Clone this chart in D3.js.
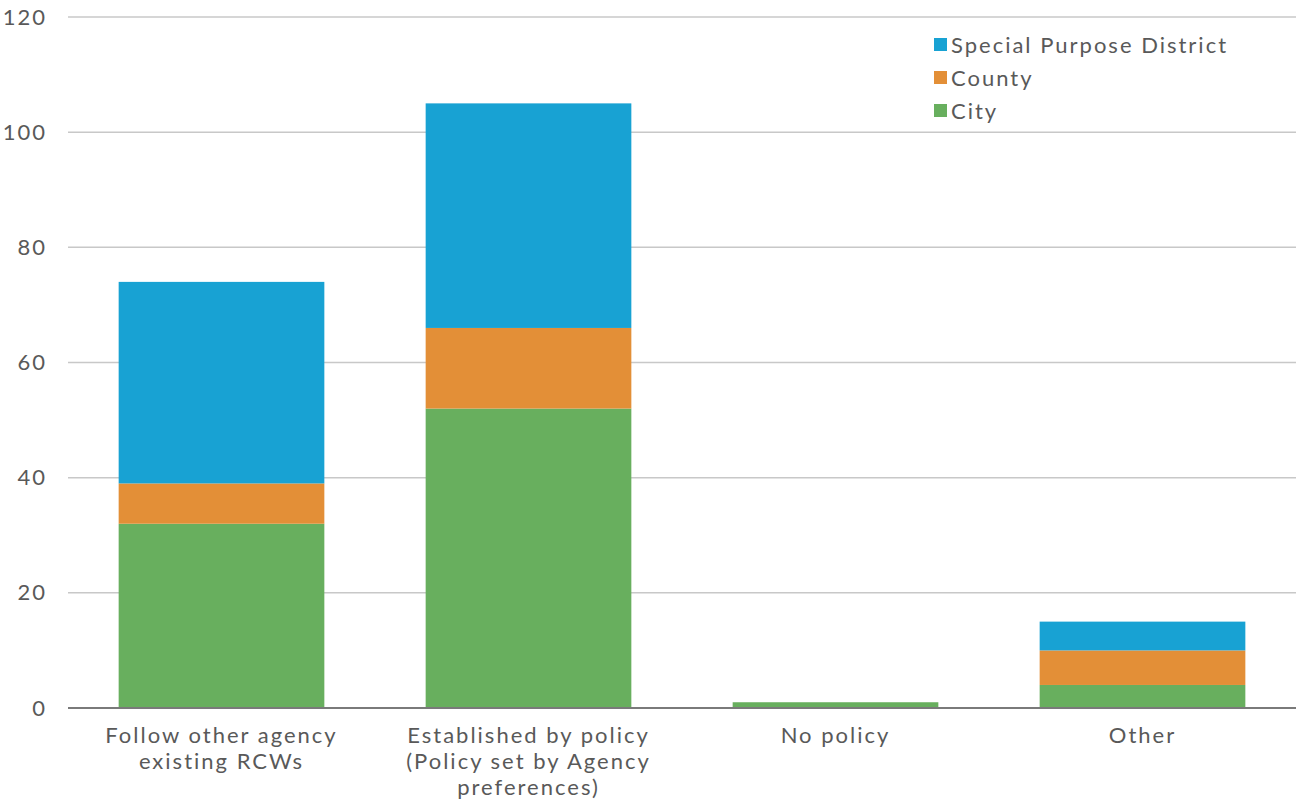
<!DOCTYPE html>
<html>
<head>
<meta charset="utf-8">
<script src="https://cdn.jsdelivr.net/npm/d3@7"></script>
<style>
  body { margin: 0; background: #fff; }
  text { font-family: "Lato", "Open Sans", sans-serif; fill: #595959; }
  .spaced { letter-spacing: 2px; }
</style>
</head>
<body>
<div id="chart"></div>
<script>
// categories and series
var categories = [
    ["Follow other agency", "existing RCWs"],
    ["Established by policy", "(Policy set by Agency", "preferences)"],
    ["No policy"],
    ["Other"]
];
var seriesNames = ["City", "County", "Special Purpose District"];
var city = [32, 52, 1, 4];
var county = [7, 14, 0, 6];
var spd = [35, 39, 0, 5];
var yTicks = [0, 20, 40, 60, 80, 100, 120];
var colors = ["#68AF5E", "#E38F37", "#18A2D3"];

var svgWidth = 1296, svgHeight = 800;
var margin = { top: 17, right: 0, bottom: 92, left: 68 };
var width = svgWidth - margin.left - margin.right;
var height = svgHeight - margin.top - margin.bottom;

var svg = d3.select("#chart").append("svg")
    .attr("width", svgWidth)
    .attr("height", svgHeight);

var chartGroup = svg.append("g")
    .attr("transform", `translate(${margin.left}, ${margin.top})`);

// build rows for stack
var rows = categories.map(function(c, i) {
    return { idx: i, City: city[i], County: county[i], "Special Purpose District": spd[i] };
});
var stacked = d3.stack().keys(seriesNames)(rows);

var xScale = d3.scaleBand()
    .domain(d3.range(categories.length))
    .range([0, width])
    .paddingInner(0.33)
    .paddingOuter(0.165);

var yScale = d3.scaleLinear()
    .domain([0, 120])
    .range([height, 0]);

// gridlines
chartGroup.append("g")
    .selectAll("line")
    .data(yTicks.filter(d => d > 0))
    .enter()
    .append("line")
    .attr("x1", 0)
    .attr("x2", width)
    .attr("y1", d => yScale(d))
    .attr("y2", d => yScale(d))
    .attr("stroke", "#c8c8c8")
    .attr("stroke-width", 1.5);

// y axis labels
var leftAxis = d3.axisLeft(yScale).tickValues(yTicks).tickSize(0).tickPadding(21);
var yAxisG = chartGroup.append("g").call(leftAxis);
yAxisG.select(".domain").remove();
yAxisG.selectAll("text")
    .attr("class", "spaced")
    .style("font-size", "22px")
    .attr("fill", "#595959");

// bars
chartGroup.selectAll(".series")
    .data(stacked)
    .enter()
    .append("g")
    .attr("fill", (d, i) => colors[i])
    .selectAll("rect")
    .data(d => d)
    .enter()
    .append("rect")
    .attr("x", d => xScale(d.data.idx))
    .attr("width", xScale.bandwidth())
    .attr("y", d => yScale(d[1]))
    .attr("height", d => yScale(d[0]) - yScale(d[1]));

// x axis line
chartGroup.append("line")
    .attr("x1", 0)
    .attr("x2", width)
    .attr("y1", height)
    .attr("y2", height)
    .attr("stroke", "#7a7a7a")
    .attr("stroke-width", 2);

// category labels
var catLabels = chartGroup.selectAll(".cat")
    .data(categories)
    .enter()
    .append("text")
    .attr("class", "spaced")
    .attr("text-anchor", "middle")
    .style("font-size", "22px")
    .attr("transform", (d, i) => `translate(${xScale(i) + xScale.bandwidth() / 2}, ${height + 35})`);
catLabels.selectAll("tspan")
    .data(d => d)
    .enter()
    .append("tspan")
    .attr("x", 0)
    .attr("y", (d, i) => i * 26)
    .text(d => d);

// legend
var legendItems = seriesNames.slice().reverse();
var legendColors = colors.slice().reverse();
var legend = svg.append("g")
    .attr("transform", "translate(934, 45)");
legendItems.forEach(function(name, i) {
    legend.append("rect")
        .attr("x", 0)
        .attr("y", i * 33 - 7)
        .attr("width", 13)
        .attr("height", 13)
        .attr("fill", legendColors[i]);
    legend.append("text")
        .attr("class", "spaced")
        .attr("x", 17)
        .attr("y", i * 33 + 8)
        .style("font-size", "22px")
        .text(name);
});
</script>
</body>
</html>
